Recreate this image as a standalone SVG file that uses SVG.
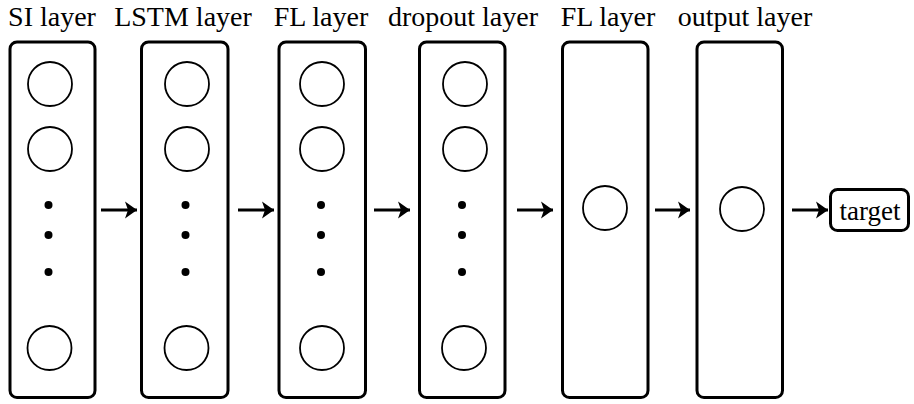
<svg xmlns="http://www.w3.org/2000/svg" width="914" height="404" viewBox="0 0 914 404">
<defs>
<style>
.box{fill:#fff;stroke:#000;stroke-width:3}
.n{fill:none;stroke:#000;stroke-width:1.8}
.d{fill:#000}
.lbl{font-family:'Liberation Serif','Times New Roman',Times,serif;font-size:28px;fill:#000;text-anchor:middle}
.edge{stroke:#000;stroke-width:3;fill:none}
</style>
<marker id="ah" markerUnits="userSpaceOnUse" markerWidth="14" markerHeight="20" refX="12" refY="9" orient="auto" viewBox="0 0 14 18">
<path d="M0,0.5 L12,9 L0,17.5 L3,9 Z" fill="#000"/>
</marker>
</defs>
<rect width="914" height="404" fill="#fff"/>
<g id="si-layer">
<text class="lbl" x="52" y="26">SI layer</text>
<rect class="box" x="10" y="42" width="85" height="355.5" rx="7"/>
<circle class="n" cx="50" cy="84" r="22"/>
<circle class="n" cx="50" cy="149" r="22"/>
<circle class="d" cx="48.5" cy="205" r="4"/>
<circle class="d" cx="48.5" cy="235" r="4"/>
<circle class="d" cx="48.5" cy="272" r="4"/>
<circle class="n" cx="49.5" cy="348" r="22"/>
</g>
<g id="lstm-layer">
<text class="lbl" x="183" y="26">LSTM layer</text>
<rect class="box" x="141.5" y="42" width="86.5" height="355.5" rx="7"/>
<circle class="n" cx="187" cy="84" r="22"/>
<circle class="n" cx="187" cy="149" r="22"/>
<circle class="d" cx="185.5" cy="205" r="4"/>
<circle class="d" cx="185.5" cy="235" r="4"/>
<circle class="d" cx="185.5" cy="272" r="4"/>
<circle class="n" cx="186.5" cy="348" r="22"/>
</g>
<g id="fl-layer-1">
<text class="lbl" x="321" y="26">FL layer</text>
<rect class="box" x="279" y="42" width="86.5" height="355.5" rx="7"/>
<circle class="n" cx="322" cy="84" r="22"/>
<circle class="n" cx="322" cy="149" r="22"/>
<circle class="d" cx="321" cy="205" r="4"/>
<circle class="d" cx="321" cy="235" r="4"/>
<circle class="d" cx="321" cy="272" r="4"/>
<circle class="n" cx="322" cy="348" r="22"/>
</g>
<g id="dropout-layer">
<text class="lbl" x="463" y="26">dropout layer</text>
<rect class="box" x="419.5" y="42" width="85.5" height="355.5" rx="7"/>
<circle class="n" cx="465" cy="84" r="22"/>
<circle class="n" cx="465" cy="149" r="22"/>
<circle class="d" cx="462" cy="205" r="4"/>
<circle class="d" cx="462" cy="235" r="4"/>
<circle class="d" cx="462" cy="272" r="4"/>
<circle class="n" cx="464" cy="348" r="22"/>
</g>
<g id="fl-layer-2">
<text class="lbl" x="608" y="26">FL layer</text>
<rect class="box" x="562.5" y="42" width="85.5" height="355.5" rx="7"/>
<circle class="n" cx="605" cy="208" r="22"/>
</g>
<g id="output-layer">
<text class="lbl" x="745" y="26">output layer</text>
<rect class="box" x="697" y="42" width="85.5" height="355.5" rx="7"/>
<circle class="n" cx="742" cy="209" r="22"/>
</g>
<g id="target">
<rect class="box" x="830.5" y="189.5" width="78" height="41" rx="7"/>
<text class="lbl" x="870" y="220" style="font-size:27px">target</text>
</g>
<g id="connectors">
<line class="edge" x1="101" y1="210" x2="137" y2="210" marker-end="url(#ah)"/>
<line class="edge" x1="238" y1="210" x2="274" y2="210" marker-end="url(#ah)"/>
<line class="edge" x1="374" y1="210" x2="410" y2="210" marker-end="url(#ah)"/>
<line class="edge" x1="517" y1="210" x2="553" y2="210" marker-end="url(#ah)"/>
<line class="edge" x1="655" y1="210" x2="690" y2="210" marker-end="url(#ah)"/>
<line class="edge" x1="792" y1="210" x2="828" y2="210" marker-end="url(#ah)"/>
</g>
</svg>
